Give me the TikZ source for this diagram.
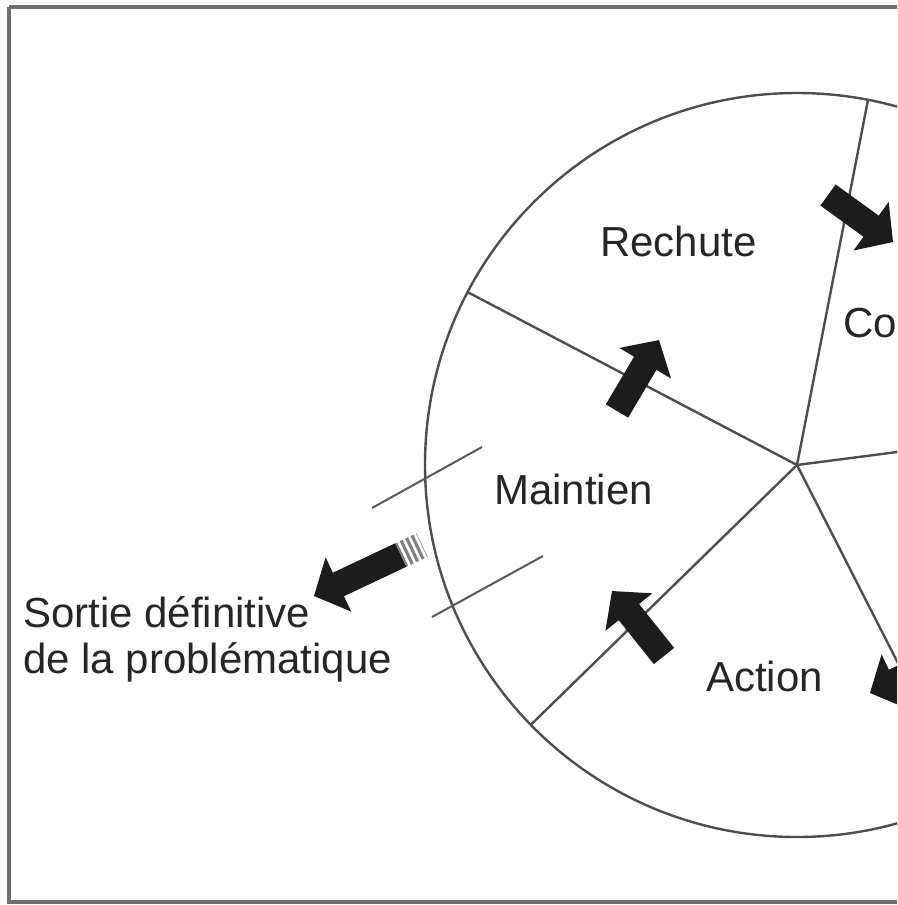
\documentclass[tikz,border=0pt]{standalone}
\usepackage{fontspec}
\setmainfont{Liberation Sans}
\usetikzlibrary{calc}
\definecolor{linegray}{HTML}{4E4E4E}
\definecolor{tickgray}{HTML}{5A5A5A}
\definecolor{framegray}{HTML}{6E6E6E}
\definecolor{arrowblack}{HTML}{1C1C1C}
\definecolor{textgray}{HTML}{262626}
\newcommand\blockarrow[2]{%
  \path ($(#2)!27pt!(#1)$) coordinate (#2-m);
  \fill[arrowblack] ($(#1)!13pt!90:(#2)$) -- ($(#2-m)!13pt!90:(#2)$) -- ($(#2-m)!30pt!90:(#2)$) -- (#2)
     -- ($(#2-m)!30pt!-90:(#2)$) -- ($(#2-m)!13pt!-90:(#2)$) -- ($(#1)!13pt!-90:(#2)$) -- cycle;
}
\tikzset{
  wheel/.style={draw=linegray, line width=2.4},
  tickline/.style={draw=tickgray, line width=2},
  frameline/.style={draw=framegray, line width=4.5},
  lbl/.style={inner sep=0pt, anchor=base west, text=textgray, font=\fontsize{42}{46}\selectfont},
}
\begin{document}
\begin{tikzpicture}[x=1pt,y=-1pt]
\useasboundingbox (0,0) rectangle (897,905);
\fill[white] (0,0) rectangle (897,905);
\clip (0,0) rectangle (897,905);
% frame
\draw[frameline] (9,7) -- (1000,7);
\draw[frameline] (9,7) -- (9,902) -- (1000,902);
% wheel
\coordinate (hub) at (797,465);
\coordinate (s1) at (868.0,99.8);
\coordinate (s2) at (467.6,292.1);
\coordinate (s3) at (1165.9,417.1);
\coordinate (s4) at (530.8,724.8);
\coordinate (s5) at (965.9,796.4);
\draw[wheel] (hub) circle (372);
\foreach \s in {s1,s2,s3,s4,s5} \draw[wheel] (hub) -- (\s);
% exit gate lines
\coordinate (t1a) at (372,508); \coordinate (t1b) at (482,447);
\coordinate (t2a) at (432,617); \coordinate (t2b) at (543,556);
\draw[tickline] (t1a) -- (t1b);
\draw[tickline] (t2a) -- (t2b);
% cycle arrows
\coordinate (a1t) at (617,411); \coordinate (a1h) at (659,340);
\blockarrow{a1t}{a1h}
\coordinate (a2t) at (664,656); \coordinate (a2h) at (612,591);
\blockarrow{a2t}{a2h}
\coordinate (a3t) at (828,195); \coordinate (a3h) at (893,242);
\blockarrow{a3t}{a3h}
\coordinate (a4t) at (942,659); \coordinate (a4h) at (870,693);
\blockarrow{a4t}{a4h}
% exit arrow with striped tail
\coordinate (extail) at (422,545); \coordinate (exhead) at (314,596);
\coordinate (exsolid) at ($(exhead)!96pt!(extail)$);
\blockarrow{exsolid}{exhead}
\fill[black!50] ($(exsolid)!13pt!90:(exhead)$) -- ($(extail)!13pt!90:(exhead)$) -- ($(extail)!13pt!-90:(exhead)$) -- ($(exsolid)!13pt!-90:(exhead)$) -- cycle;
\foreach \d in {3.5,9.5,15.5,21.5} {
  \coordinate (sp) at ($(exsolid)!\d pt!(extail)$);
  \draw[white, line width=2.6] ($(sp)!14pt!90:(exhead)$) -- ($(sp)!14pt!-90:(exhead)$);
}
% labels
\node[lbl] (rechute) at (600,256) {Rechute};
\node[lbl] (maintien) at (494,504) {Maintien};
\node[lbl] (action) at (706,691) {Action};
\node[lbl] (contemp) at (843,337) {Co};
\node[lbl, align=left] (sortie) at (23,673) {Sortie définitive\\de la problématique};
\end{tikzpicture}
\end{document}
